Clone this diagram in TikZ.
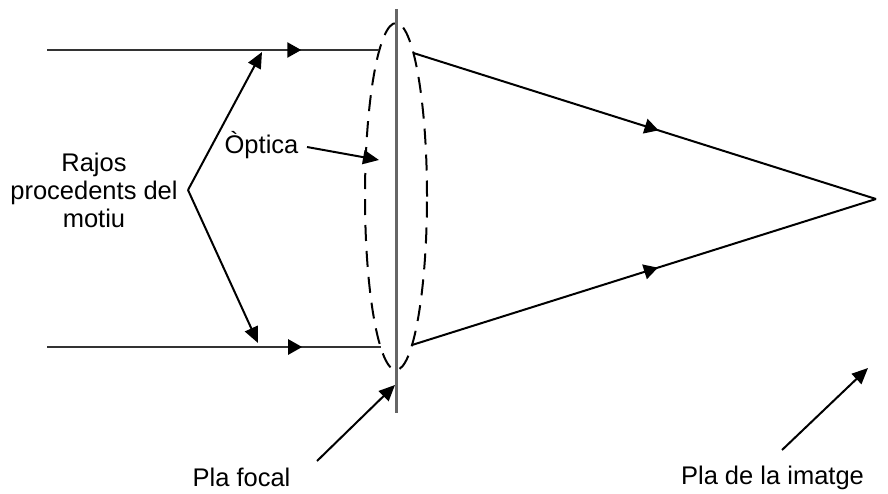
\documentclass[tikz,border=0pt]{standalone}
\usepackage{fontspec}
\setmainfont{Liberation Sans}
\usetikzlibrary{arrows.meta,decorations.markings}

\tikzset{
  ray/.style={line width=2pt, black},
  inray/.style={line width=2.4pt, black!80},
  midarrow/.style={postaction={decorate}, decoration={markings,
      mark=at position #1 with {\arrow[black]{Triangle[length=14pt,width=15pt]}}}},
  pointer/.style={line width=2pt, -{Triangle[length=16pt,width=14pt]}},
  lens/.style={line width=2pt, dash pattern=on 16pt off 10pt},
  plane/.style={line width=3pt, black!60},
  label/.style={font=\fontsize{25.5}{28}\selectfont, inner sep=0pt, align=center},
}

\begin{document}
\begin{tikzpicture}[x=1pt, y=-1pt]
  \useasboundingbox (0,0) rectangle (888,493);

  % focal plane and the lens outline
  \draw[plane] (396,9) -- (396,413);
  \draw[lens] (396,196.5) ellipse [x radius=31pt, y radius=173.5pt];

  % key points of the ray paths
  \coordinate (inTopL) at (47,50);
  \coordinate (inTopR) at (379.4,50);
  \coordinate (inBotL) at (47,347);
  \coordinate (inBotR) at (380.6,347);
  \coordinate (outTop) at (413.4,53);
  \coordinate (outBot) at (412,345);
  \coordinate (image) at (876,199);

  % incoming parallel rays
  \draw[inray, midarrow=0.765] (inTopL) -- (inTopR);
  \draw[inray, midarrow=0.765] (inBotL) -- (inBotR);

  % refracted rays converging on the image point
  \draw[ray, midarrow=0.53] (outTop) -- (image);
  \draw[ray, midarrow=0.53] (outBot) -- (image);

  % labels
  \node[label] (rajos) at (94,190) {Rajos\\procedents del\\motiu};
  \node[label, anchor=base] (optica) at (261.5,153) {Òptica};
  \node[label, anchor=base] (focal) at (241.5,486) {Pla focal};
  \node[label, anchor=base] (imatge) at (772.5,484) {Pla de la imatge};

  % pointers from the labels
  \coordinate (fork) at (188,190);
  \coordinate (tipTop) at (262,52);
  \coordinate (tipBot) at (258,343);
  \draw[pointer] (fork) -- (tipTop);
  \draw[pointer] (fork) -- (tipBot);

  \coordinate (optStart) at (307,147);
  \coordinate (optTip) at (379,160);
  \draw[pointer] (optStart) -- (optTip);

  \coordinate (focStart) at (317,461);
  \coordinate (focTip) at (395,385);
  \draw[pointer] (focStart) -- (focTip);

  \coordinate (imgStart) at (782,450);
  \coordinate (imgTip) at (868,368);
  \draw[pointer] (imgStart) -- (imgTip);
\end{tikzpicture}
\end{document}
